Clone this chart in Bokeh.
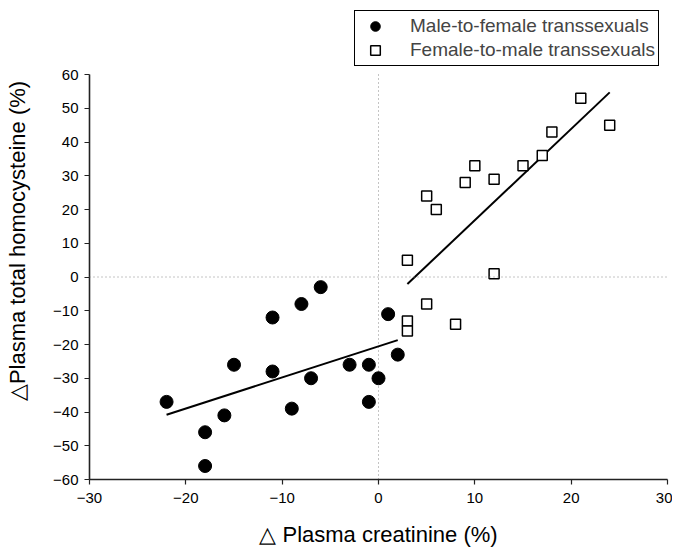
from bokeh.plotting import figure
from bokeh.models import Span, Legend, LegendItem, FixedTicker, Range1d
from bokeh.embed import file_html
from bokeh.resources import INLINE

# Male-to-female transsexuals (filled circles)
mtf_x = [-22, -18, -18, -16, -15, -11, -11, -8, -6, -9, -7, -3, -1, -1, 0, 1, 2]
mtf_y = [-37, -46, -56, -41, -26, -12, -28, -8, -3, -39, -30, -26, -26, -37, -30, -11, -23]

# Female-to-male transsexuals (open squares)
ftm_x = [21, 24, 18, 17, 15, 10, 12, 9, 5, 6, 3, 12, 5, 3, 3, 8]
ftm_y = [53, 45, 43, 36, 33, 33, 29, 28, 24, 20, 5, 1, -8, -13, -16, -14]

# Regression lines (end points)
mtf_fit_x = [-22, 2]
mtf_fit_y = [-40.8, -18.7]
ftm_fit_x = [3, 24]
ftm_fit_y = [-2.1, 54.7]

x_ticks = [-30, -20, -10, 0, 10, 20, 30]
y_ticks = [-60, -50, -40, -30, -20, -10, 0, 10, 20, 30, 40, 50, 60]

FONT = "Liberation Sans"

W, H = 672, 549
left, right, top, bottom = 89, 5, 2, 70
frame_h = H - top - bottom
# y range extends above 60 so the legend can sit inside the frame
y_lo, y_hi_axis = y_ticks[0], y_ticks[-1]
axis_px = 405  # pixels between -60 and 60
y_hi = y_lo + (y_hi_axis - y_lo) * frame_h / axis_px

p = figure(width=W, height=H, output_backend="svg", toolbar_location=None,
           x_range=Range1d(x_ticks[0], x_ticks[-1]), y_range=Range1d(y_lo, y_hi),
           min_border_left=left, min_border_right=right, min_border_top=top,
           min_border_bottom=bottom)
p.outline_line_color = None
p.grid.visible = False
p.background_fill_color = "white"
p.border_fill_color = "white"

for ax in (p.xaxis[0], p.yaxis[0]):
    ax.axis_line_color = "#222222"
    ax.axis_line_width = 1.6
    ax.major_tick_line_color = "#222222"
    ax.major_tick_line_width = 1.2
    ax.major_tick_out = 5
    ax.major_tick_in = 0
    ax.minor_tick_line_color = None
    ax.major_label_text_font = FONT
    ax.major_label_text_font_size = "15px"
    ax.major_label_text_color = "black"
    ax.axis_label_text_font = FONT
    ax.axis_label_text_font_size = "22px"
    ax.axis_label_text_font_style = "normal"
    ax.axis_label_text_color = "black"

p.xaxis[0].ticker = FixedTicker(ticks=x_ticks)
p.yaxis[0].ticker = FixedTicker(ticks=y_ticks)
p.yaxis[0].bounds = (y_lo, y_hi_axis)
p.xaxis[0].axis_label = "\u25b3 Plasma creatinine (%)"
p.yaxis[0].axis_label = "\u25b3Plasma total homocysteine (%)"
p.xaxis[0].major_label_standoff = 8
p.xaxis[0].axis_label_standoff = 16
p.yaxis[0].major_label_standoff = 6
p.yaxis[0].axis_label_standoff = 20

# dotted zero lines
p.line([0, 0], [y_lo, y_hi_axis], line_color="#888888", line_dash="1 3", line_width=1)
p.add_layout(Span(location=0, dimension="width", line_color="#888888",
                  line_dash="1 3", line_width=1))

p.line(mtf_fit_x, mtf_fit_y, line_color="black", line_width=2)
p.line(ftm_fit_x, ftm_fit_y, line_color="black", line_width=2)

r1 = p.scatter(mtf_x, mtf_y, marker="circle", size=13, fill_color="black", line_color="black")
r2 = p.scatter(ftm_x, ftm_y, marker="square", size=10, fill_color="white",
               line_color="black", line_width=1.5)

legend = Legend(items=[LegendItem(label="Male-to-female transsexuals", renderers=[r1]),
                       LegendItem(label="Female-to-male transsexuals", renderers=[r2])],
                location=(265, 413), orientation="vertical",
                border_line_color="black", border_line_width=1, border_line_alpha=1,
                background_fill_color="white", background_fill_alpha=1,
                label_text_font=FONT, label_text_font_size="19px",
                glyph_width=34, glyph_height=24, label_height=24,
                label_standoff=18, spacing=0, padding=3, margin=0)
p.add_layout(legend, "center")

open("out.html", "w").write(file_html(p, INLINE))
